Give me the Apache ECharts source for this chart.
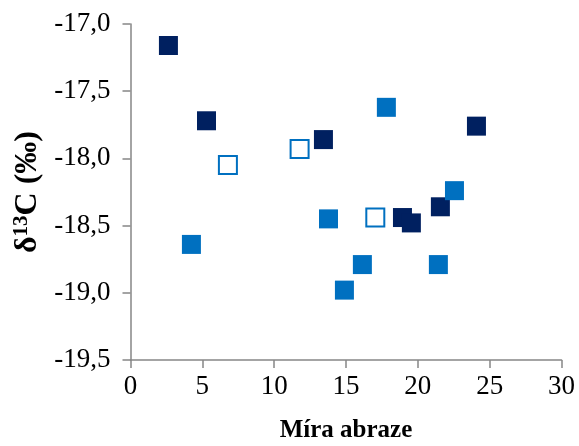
<!DOCTYPE html>
<html>
<head>
<meta charset="utf-8">
<script src="https://cdn.jsdelivr.net/npm/echarts@6/dist/echarts.min.js"></script>
<style>html,body{margin:0;padding:0;background:#fff}#c{width:579px;height:446px}</style>
</head>
<body>
<div id="c"></div>
<script>
var xTicks = [0, 5, 10, 15, 20, 25, 30];
var yTicks = [-19.5, -19.0, -18.5, -18.0, -17.5, -17.0];
var darkSeries = [[2.64, -17.16], [5.29, -17.72], [13.43, -17.86], [24.08, -17.76], [21.57, -18.36], [18.93, -18.44], [19.55, -18.48]];
var blueSeries = [[17.81, -17.62], [22.55, -18.24], [13.78, -18.45], [4.24, -18.64], [16.14, -18.79], [21.43, -18.79], [14.89, -18.98]];
var openSeries = [[6.78, -18.05], [11.77, -17.93], [17.04, -18.44]];

var chart = echarts.init(document.getElementById('c'), null, {renderer: 'canvas'});
var font = '"Liberation Serif", "Times New Roman", serif';
var axisColor = '#868686';
chart.setOption({
  animation: false,
  backgroundColor: '#ffffff',
  grid: {left: 130.5, right: 17.5, top: 24, bottom: 86, containLabel: false, outerBoundsMode: 'none'},
  xAxis: {
    type: 'value', min: xTicks[0], max: xTicks[xTicks.length - 1], interval: 5,
    axisLine: {show: true, lineStyle: {color: axisColor, width: 1.5}},
    axisTick: {show: true, length: 8, lineStyle: {color: axisColor, width: 1.5}},
    splitLine: {show: false},
    axisLabel: {color: '#000', fontFamily: font, fontSize: 27, margin: 13},
    name: 'Míra abraze', nameLocation: 'middle', nameGap: 58,
    nameTextStyle: {color: '#000', fontFamily: font, fontSize: 25, fontWeight: 'bold'}
  },
  yAxis: {
    type: 'value', min: yTicks[0], max: yTicks[yTicks.length - 1], interval: 0.5,
    axisLine: {show: true, onZero: false, lineStyle: {color: axisColor, width: 1.5}},
    axisTick: {show: true, length: 8, lineStyle: {color: axisColor, width: 1.5}},
    splitLine: {show: false},
    axisLabel: {color: '#000', fontFamily: font, fontSize: 27, margin: 20,
      formatter: function (v) { return v.toFixed(1).replace('.', ','); }},
    name: '{b|δ}{s|13}{b|C (‰)}', nameLocation: 'middle', nameGap: 86, nameRotate: 90,
    nameTextStyle: {color: '#000', fontFamily: font, fontSize: 32, fontWeight: 'bold',
      rich: {
        b: {fontFamily: font, fontSize: 32, fontWeight: 'bold', color: '#000'},
        s: {fontFamily: font, fontSize: 21, fontWeight: 'bold', color: '#000', verticalAlign: 'top', padding: [0, 0, 12, 0]}
      }}
  },
  series: [
    {type: 'scatter', data: darkSeries, symbol: 'rect', symbolSize: 19,
     itemStyle: {color: '#002060', opacity: 1}},
    {type: 'scatter', data: blueSeries, symbol: 'rect', symbolSize: 19,
     itemStyle: {color: '#0070C0', opacity: 1}},
    {type: 'scatter', data: openSeries, symbol: 'rect', symbolSize: 18,
     itemStyle: {color: '#ffffff', borderColor: '#0070C0', borderWidth: 2, opacity: 1}}
  ]
});
</script>
</body>
</html>
